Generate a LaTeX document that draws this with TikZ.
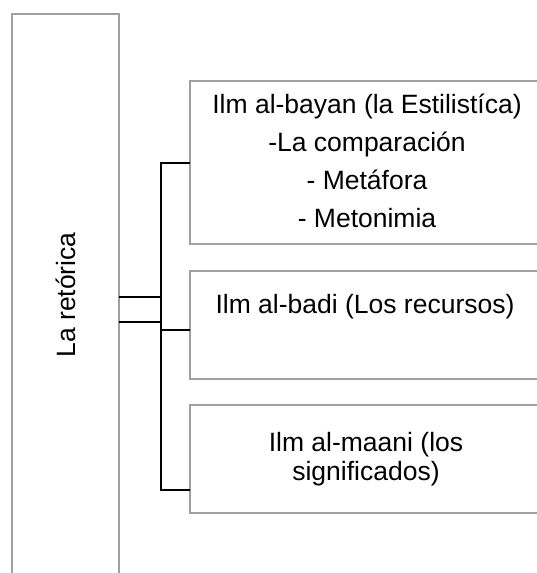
\documentclass[tikz,border=0pt]{standalone}
\usepackage{fontspec}
\setmainfont{Liberation Sans}
\definecolor{boxgray}{RGB}{160,160,160}
\begin{document}
\begin{tikzpicture}[x=1pt,y=-1pt,
  frame/.style={draw=boxgray, line width=1.3pt, inner sep=0pt, outer sep=0pt},
  link/.style={draw=black, line width=2pt, line join=miter},
  lbl/.style={font=\fontsize{26.5}{38}\selectfont, align=center, inner sep=0pt}]
\useasboundingbox (0,0) rectangle (537,573);
\clip (0,0) rectangle (537,573);

% main box on the left, running past the lower edge
\node[frame, minimum width=107pt, minimum height=590pt, anchor=north] (rhet) at (65.5,14) {};
\node[lbl, rotate=90] (rhettext) at (66,295) {La retórica};

% the three branches, running past the right edge
\node[frame, minimum width=352pt, minimum height=163pt] (b1) at (366,162.5) {};
\node[frame, minimum width=352pt, minimum height=108pt] (b2) at (366,325) {};
\node[frame, minimum width=352pt, minimum height=108pt] (b3) at (366,459) {};

% multi-line texts are placed by the baseline of their last line
\node[lbl, anchor=base] (t1) at (367,227) {Ilm al-bayan (la Estilistíca)\\-La comparación\\- Metáfora\\- Metonimia};
\node[lbl, anchor=base] (t2) at (365,313) {Ilm al-badi (Los recursos)};
\node[lbl, font=\fontsize{26.5}{28.5}\selectfont, anchor=base] (t3) at (366,480) {Ilm al-maani (los\\significados)};

% bracket joining the main box to the branches
\coordinate (j1) at (161,163);
\coordinate (j2) at (161,330);
\coordinate (j3) at (161,490);
\coordinate (s1) at (161,297);
\coordinate (s2) at (161,322);
\draw[link] (j1 -| b1.west) -- (j1) -- (j3) -- (j3 -| b3.west);
\draw[link] (j2) -- (j2 -| b2.west);
\draw[link] (s1 -| rhet.east) -- (s1);
\draw[link] (s2 -| rhet.east) -- (s2);
\end{tikzpicture}
\end{document}
